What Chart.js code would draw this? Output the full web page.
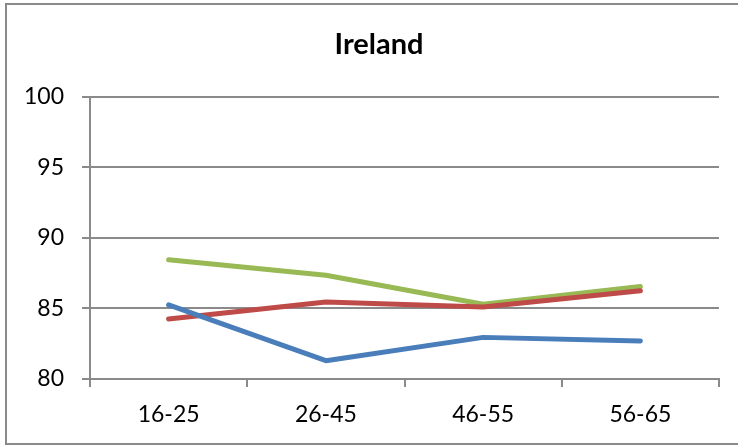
<!DOCTYPE html>
<html>
<head>
<meta charset="utf-8">
<script src="https://cdn.jsdelivr.net/npm/chart.js@4"></script>
<style>
    html, body { margin: 0; padding: 0; background: #fff; overflow: hidden; }
    #frame {
        position: absolute; left: 5px; top: 3px;
        width: 760px; height: 438px;
        border: 2px solid #8a8a8a;
    }
    #wrap { position: absolute; left: 0; top: 0; width: 738px; height: 446px; }
</style>
</head>
<body>
<div id="frame"></div>
<div id="wrap"><canvas id="chart" width="738" height="446"></canvas></div>
<script>
// Age groups on the x axis
const ageGroups = ['16-25', '26-45', '46-55', '56-65'];

// Series values
const blueValues = [85.25, 81.3, 82.95, 82.7];
const redValues = [84.25, 85.45, 85.1, 86.25];
const greenValues = [88.45, 87.35, 85.3, 86.55];

// Y axis range
const yMin = 80;
const yMax = 100;
const yStep = 5;

const chartTitle = 'Ireland';
const gridColor = '#8a8a8a';
const fontFamily = 'Lato, "Open Sans", sans-serif';

function lineSet(label, values, color) {
    return {
        label: label,
        data: values,
        borderColor: color,
        backgroundColor: color,
        borderWidth: 5,
        borderCapStyle: 'round',
        borderJoinStyle: 'round',
        pointRadius: 0,
        tension: 0,
        fill: false
    };
}

// The built-in title keeps its space; this draws the text a bit right of canvas centre
const titleShift = {
    id: 'titleShift',
    afterDraw(chart) {
        const t = chart.titleBlock;
        const ctx = chart.ctx;
        ctx.save();
        ctx.font = 'bold 29px ' + fontFamily;
        ctx.fillStyle = '#000';
        ctx.textAlign = 'center';
        ctx.textBaseline = 'middle';
        ctx.fillText(chartTitle, chart.width / 2 + 10, t.top + 28 + 17);
        ctx.restore();
    }
};

new Chart(document.getElementById('chart'), {
    type: 'line',
    data: {
        labels: ageGroups,
        datasets: [
            lineSet('Series 1', blueValues, '#4a7ebb'),
            lineSet('Series 2', redValues, '#be4b48'),
            lineSet('Series 3', greenValues, '#98b954')
        ]
    },
    options: {
        responsive: false,
        animation: false,
        layout: { padding: { left: 0, right: 19, top: 0, bottom: 0 } },
        plugins: {
            legend: { display: false },
            tooltip: { enabled: false },
            title: {
                display: true,
                text: chartTitle,
                color: 'rgba(0,0,0,0)',
                font: { family: fontFamily, size: 29, weight: 'bold' },
                padding: { top: 28, bottom: 34 }
            }
        },
        scales: {
            x: {
                offset: true,
                grid: {
                    offset: true,
                    drawOnChartArea: false,
                    drawTicks: true,
                    tickLength: 8,
                    color: gridColor,
                    lineWidth: 2
                },
                border: { display: true, color: gridColor, width: 2 },
                ticks: {
                    color: '#000',
                    padding: 14,
                    font: { family: fontFamily, size: 23 }
                },
                afterFit: function(scale) { scale.height = 67; }
            },
            y: {
                min: yMin,
                max: yMax,
                grid: {
                    color: gridColor,
                    lineWidth: 2,
                    tickLength: 8
                },
                border: { display: true, color: gridColor, width: 2 },
                ticks: {
                    stepSize: yStep,
                    color: '#000',
                    padding: 18,
                    font: { family: fontFamily, size: 23 }
                },
                afterFit: function(scale) { scale.width = 90; }
            }
        }
    },
    plugins: [titleShift]
});
</script>
</body>
</html>
